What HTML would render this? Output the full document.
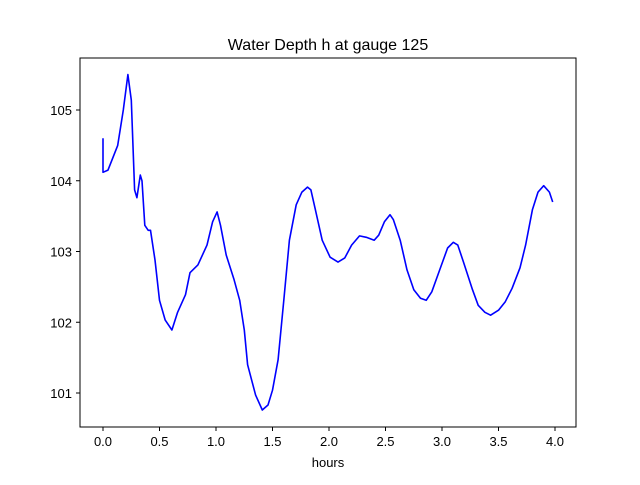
<!DOCTYPE html>
<html><head><meta charset="utf-8"><style>
body{margin:0;background:#fff;}
svg text{font-family:"Liberation Sans",sans-serif;fill:#000;}
</style></head><body>
<svg id="chart" width="640" height="480">
<rect x="0" y="0" width="640" height="480" fill="#fff"/>
<text x="328" y="50" font-size="16" text-anchor="middle">Water Depth h at gauge 125</text>
<g id="xt"></g>
<g id="yt"></g>
<path id="line" fill="none" stroke="#0000ff" stroke-width="1.6" stroke-linejoin="round"/>
<rect x="80" y="58" width="496" height="369" fill="none" stroke="#000" stroke-width="1"/>
<text x="328" y="467" font-size="13" text-anchor="middle">hours</text>
</svg>
<script>
const hours=[0,0,0.044,0.13,0.18,0.22,0.25,0.28,0.3,0.33,0.345,0.37,0.4,0.42,0.46,0.5,0.55,0.61,0.66,0.73,0.77,0.84,0.92,0.97,1.01,1.04,1.09,1.16,1.21,1.25,1.28,1.35,1.41,1.46,1.5,1.55,1.6,1.65,1.71,1.76,1.81,1.84,1.88,1.94,2.01,2.08,2.14,2.2,2.27,2.33,2.4,2.44,2.49,2.54,2.57,2.63,2.69,2.75,2.81,2.86,2.91,2.98,3.05,3.1,3.14,3.19,3.27,3.32,3.38,3.43,3.5,3.56,3.62,3.69,3.74,3.8,3.85,3.9,3.95,3.98];
const depth=[104.6,104.12,104.15,104.5,105,105.5,105.14,103.87,103.76,104.08,104,103.37,103.3,103.3,102.88,102.31,102.03,101.89,102.14,102.39,102.7,102.81,103.09,103.42,103.56,103.37,102.95,102.6,102.31,101.89,101.4,100.97,100.76,100.83,101.04,101.47,102.31,103.16,103.66,103.84,103.91,103.87,103.59,103.16,102.92,102.85,102.91,103.09,103.22,103.2,103.16,103.23,103.42,103.52,103.45,103.16,102.74,102.46,102.34,102.31,102.43,102.74,103.05,103.13,103.09,102.85,102.46,102.24,102.14,102.1,102.17,102.29,102.48,102.77,103.09,103.59,103.84,103.93,103.84,103.7];
const xTicks=[0,0.5,1,1.5,2,2.5,3,3.5,4];
const xLabels=["0.0","0.5","1.0","1.5","2.0","2.5","3.0","3.5","4.0"];
const yTicks=[101,102,103,104,105];
const yLabels=["101","102","103","104","105"];
const X=v=>103+v*113;
const Y=v=>110+(105-v)*70.75;
const NS="http://www.w3.org/2000/svg";
const xt=document.getElementById('xt'),yt=document.getElementById('yt');
xTicks.forEach((t,i)=>{
 const l=document.createElementNS(NS,'line');
 
 
 l.setAttribute('x1',X(t));l.setAttribute('x2',X(t));l.setAttribute('y1',427);l.setAttribute('y2',431);l.setAttribute('stroke','#000');
 xt.appendChild(l);
 const tx=document.createElementNS(NS,'text');
 
 
 tx.setAttribute('x',X(t));tx.setAttribute('y',446);tx.setAttribute('font-size','13');tx.setAttribute('text-anchor','middle');
 tx.textContent=xLabels[i];xt.appendChild(tx);
});
yTicks.forEach((t,i)=>{
 const l=document.createElementNS(NS,'line');
 
 
 l.setAttribute('x1',76);l.setAttribute('x2',80);l.setAttribute('y1',Y(t));l.setAttribute('y2',Y(t));l.setAttribute('stroke','#000');
 yt.appendChild(l);
 const tx=document.createElementNS(NS,'text');
 
 
 tx.setAttribute('x',72);tx.setAttribute('y',Y(t)+5);tx.setAttribute('font-size','13');tx.setAttribute('text-anchor','end');
 tx.textContent=yLabels[i];yt.appendChild(tx);
});
document.getElementById('line').setAttribute('d',hours.map((h,i)=>(i?'L':'M')+X(h).toFixed(1)+' '+Y(depth[i]).toFixed(1)).join(' '));
</script>
</body></html>
